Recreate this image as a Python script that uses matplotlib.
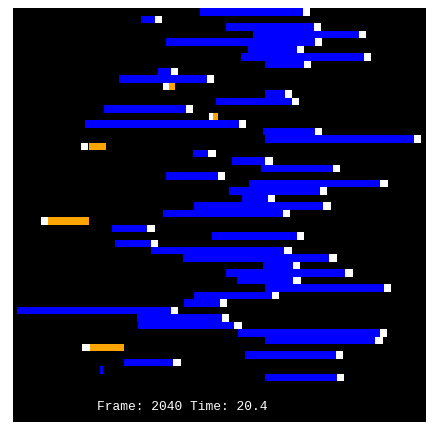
import numpy as np
import matplotlib
matplotlib.use("Agg")
import matplotlib.pyplot as plt

# eastbound cars (blue): lane, tail x, head x  (head -1 = no head drawn)
blue_lane = [0, 1, 2, 3, 4, 5, 6, 7, 8, 9, 11, 12, 13, 15, 16, 17, 19, 20, 21, 22,
             23, 24, 25, 26, 27, 29, 30, 31, 32, 33, 34, 35, 36, 37, 38, 39, 40, 41,
             42, 43, 44, 46, 47, 48, 49]
blue_tail = [25.07, 17.16, 28.55, 32.17, 20.51, 31.50, 30.56, 33.78, 19.44, 14.21,
             33.78, 27.21, 12.20, 9.65, 33.51, 33.78, 24.09, 29.36, 33.28, 20.51,
             31.60, 28.99, 30.74, 24.26, 20.15, 13.27, 26.68, 13.67, 18.46, 22.75,
             33.51, 28.55, 30.03, 33.78, 24.26, 22.96, 0.54, 16.66, 16.80, 30.12,
             33.78, 31.14, 14.88, 11.70, 33.78]
blue_head = [38.87, 19.03, 40.35, 46.38, 40.48, 38.07, 47.05, 39.01, 21.18, 26.01,
             36.46, 37.40, 23.19, 30.29, 40.48, 53.75, 26.18, 33.82, 42.90, 27.44,
             49.24, 41.15, 34.18, 41.59, 36.15, 18.00, 38.03, 18.50, 36.37, 42.40,
             37.49, 44.54, 37.57, 49.73, 34.68, 27.75, 21.14, 28.02, 29.66, 49.20,
             48.57, 43.30, 21.49, 12.02, 43.39]
blue_has_head = [1] * 43 + [0, 1]

# westbound cars (orange): lane, head x, trail from / to
orange_lane = [10, 14, 18, 28, 45]
orange_head = [20.07, 26.27, 9.12, 3.71, 9.29]
orange_lo = [20.91, 26.85, 10.15, 4.73, 10.32]
orange_hi = [21.76, 27.52, 12.47, 10.19, 14.92]

frame = 2040
t = 20.4

fig = plt.figure(figsize=(4.34, 4.32), dpi=100)
ax = fig.add_axes([13 / 434, (432 - 422.3) / 432, 413 / 434, 414 / 432])
ax.set_facecolor("black")
ax.set_xlim(0, 55.36)
ax.set_ylim(55.5, 0)
ax.set_xticks([])
ax.set_yticks([])
for s in ax.spines.values():
    s.set_visible(False)

bl = np.array(blue_lane)
bt = np.array(blue_tail)
bh = np.array(blue_head)
ax.barh(bl, bh - bt, left=bt, height=1.0, align="edge", color="#0000ff",
        linewidth=0, zorder=1)
hm = np.array(blue_has_head) == 1
ax.barh(bl[hm], 0.98, left=bh[hm], height=1.0, align="edge", color="white",
        linewidth=0, zorder=2)

ol = np.array(orange_lane)
ax.barh(ol, 0.98, left=orange_head, height=1.0, align="edge", color="white",
        linewidth=0, zorder=2)
ax.barh(ol, np.array(orange_hi) - np.array(orange_lo), left=orange_lo, height=1.0,
        align="edge", color="orange", linewidth=0, zorder=3)

ax.text(11.2, 53.4, f"Frame: {frame} Time: {t}", color="white", va="center",
        ha="left", family=["Liberation Mono", "DejaVu Sans Mono"], fontsize=9.3)

fig.savefig("out.png", dpi=100, facecolor="white")
